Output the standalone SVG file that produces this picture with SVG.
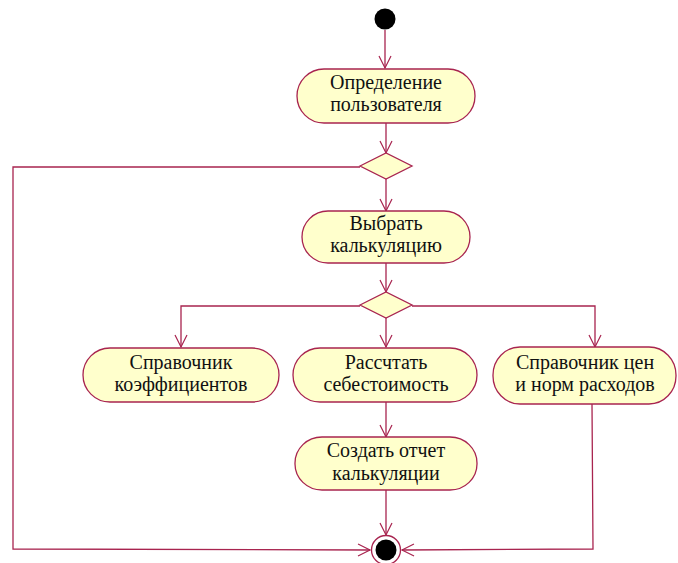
<svg xmlns="http://www.w3.org/2000/svg" width="678" height="563" viewBox="0 0 678 563">
<defs>
<marker id="arr" markerUnits="userSpaceOnUse" markerWidth="16" markerHeight="16" refX="13" refY="7" orient="auto">
<path d="M1,1 L13,7 L1,13" fill="none" stroke="#A8244F" stroke-width="1.2"/>
</marker>
<style>
.n{fill:#FFFFCC;stroke:#A8244F;stroke-width:1.3}
.t{font-family:"Liberation Serif","Times New Roman",serif;font-size:20px;fill:#111;text-anchor:middle}
.c{fill:none;stroke:#A8244F;stroke-width:1.3}
.d{fill:#FFFFCC;stroke:#A8244F;stroke-width:1.3}
</style>
</defs>
<rect width="678" height="563" fill="#fff"/>
<g id="connectors">
<path class="c" d="M385,30 L385,68" marker-end="url(#arr)"/>
<path class="c" d="M386,123 L386,153" marker-end="url(#arr)"/>
<path class="c" d="M386,179 L386,211" marker-end="url(#arr)"/>
<path class="c" d="M386,263 L386,292" marker-end="url(#arr)"/>
<path class="c" d="M386,318 L386,347" marker-end="url(#arr)"/>
<path class="c" d="M360,306 L181,306 L181,347" marker-end="url(#arr)"/>
<path class="c" d="M412,306 L595,306 L595,347" marker-end="url(#arr)"/>
<path class="c" d="M386,402 L386,437" marker-end="url(#arr)"/>
<path class="c" d="M386,490 L386,535" marker-end="url(#arr)"/>
<path class="c" d="M360,167 L13,167 L13,549 L370,550" marker-end="url(#arr)"/>
<path class="c" d="M592,404 L593,549 L402,550" marker-end="url(#arr)"/>
</g>
<g id="start"><circle cx="385" cy="19" r="10.5" fill="#000"/></g>
<g id="n1"><rect class="n" x="297" y="69" width="178" height="54" rx="27" ry="27"/>
<text class="t" x="386" y="89">Определение</text><text class="t" x="386" y="111">пользователя</text></g>
<g id="dec1"><polygon class="d" points="360,166 386,153 412,166 386,179"/></g>
<g id="n2"><rect class="n" x="302" y="211" width="168" height="52" rx="26" ry="26"/>
<text class="t" x="386" y="230">Выбрать</text><text class="t" x="386" y="252">калькуляцию</text></g>
<g id="dec2"><polygon class="d" points="360,305 386,292 412,305 386,318"/></g>
<g id="n3"><rect class="n" x="83" y="348" width="196" height="54" rx="27" ry="27"/>
<text class="t" x="181" y="369">Справочник</text><text class="t" x="181" y="391">коэффициентов</text></g>
<g id="n4"><rect class="n" x="293" y="348" width="184" height="54" rx="27" ry="27"/>
<text class="t" x="386" y="369">Рассчтать</text><text class="t" x="386" y="391">себестоимость</text></g>
<g id="n5"><rect class="n" x="493" y="347" width="183" height="57" rx="27" ry="28"/>
<text class="t" x="585" y="369">Справочник цен</text><text class="t" x="585" y="391">и норм расходов</text></g>
<g id="n6"><rect class="n" x="295" y="437" width="182" height="53" rx="27" ry="26"/>
<text class="t" x="386" y="457">Создать отчет</text><text class="t" x="386" y="480">калькуляции</text></g>
<g id="end"><circle cx="386" cy="550" r="14.5" fill="#fff" stroke="#A8244F" stroke-width="1.3"/><circle cx="386" cy="550" r="10.5" fill="#000"/></g>
</svg>
